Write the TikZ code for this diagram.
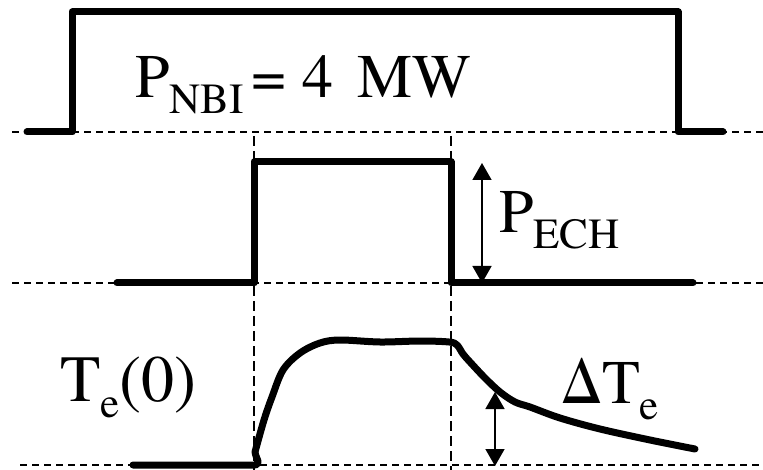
\documentclass[tikz,border=0pt]{standalone}
\usepackage{fontspec}
\setmainfont{TeX Gyre Termes}
\usetikzlibrary{arrows.meta,positioning}

\newcommand{\lowidx}[1]{\raisebox{-16pt}{\fontsize{43}{43}\selectfont #1}}

\begin{document}
\begin{tikzpicture}[
    x=1pt, y=-1pt,
    wave/.style={line width=7pt, line cap=round, line join=round},
    base/.style={line width=1.3pt, dash pattern=on 7pt off 5pt},
    guide/.style={line width=1.3pt, dash pattern=on 10pt off 5pt},
    label/.style={inner sep=0pt, anchor=base west, font=\fontsize{62}{62}\selectfont},
    dim/.style={{Triangle[length=17pt,width=19pt]}-{Triangle[length=17pt,width=19pt]}, line width=1.5pt}
]
    \useasboundingbox (0,0) rectangle (763,470);

    % Baselines
    \draw[base] (12,132) -- (763,132);
    \draw[base] (12,283) -- (763,283);
    \draw[base] (20,465) -- (763,465);

    % Switch-on and switch-off of ECH
    \draw[guide] (254,136) -- (254,470);
    \draw[guide] (451,136) -- (451,470);

    % NBI pulse
    \draw[wave] (27,132) -- (72,132) -- (72,12) -- (678,12) -- (678,132) -- (723,132);
    \node[label] (pnbi) at (135,98) {P\lowidx{NBI}\hspace{8pt}=\hspace{16pt}4\hspace{24pt}MW};

    % ECH pulse
    \draw[wave] (117,283) -- (254,283) -- (254,162) -- (451,162) -- (451,283) -- (693,283);
    \coordinate (echtop) at (482,163);
    \coordinate (echbot) at (482,283);
    \draw[dim] (echtop) -- (echbot);
    \node[label] (pech) at (499,233) {P\lowidx{ECH}};

    % Electron temperature
    \draw[wave] (133,465) -- (250,465) .. controls (264,466) and (256,460) .. (255,452)
        -- plot[smooth, tension=0.55] coordinates {(255,452) (264,420) (272,397) (283,370)
        (300,353) (320,343) (340,340) (380,342) (420,341) (449,342) (457,345) (463,354)
        (470,362) (485,378) (500,392) (515,402) (530,407) (560,418) (600,429) (650,440) (695,449)};
    \node[label, font=\fontsize{66}{66}\selectfont] (te) at (60,401) {T\lowidx{e}(0)};
    \coordinate (dttop) at (495,392);
    \coordinate (dtbot) at (495,466);
    \draw[dim] (dttop) -- (dtbot);
    \node[label] (dte) at (561,403) {ΔT\lowidx{e}};
\end{tikzpicture}
\end{document}
